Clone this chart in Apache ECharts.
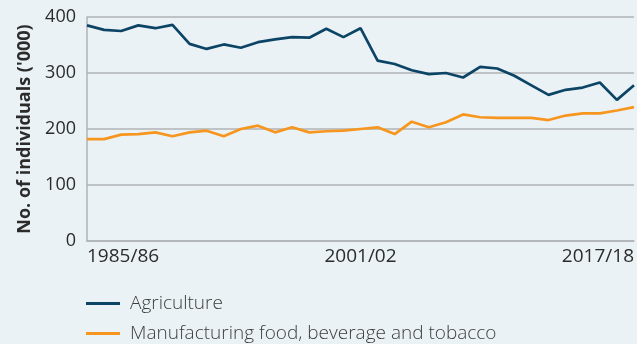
<!DOCTYPE html>
<html><head><meta charset="utf-8">
<script src="https://cdn.jsdelivr.net/npm/echarts@6/dist/echarts.min.js"></script>
<style>html,body{margin:0;padding:0;background:#ebf2f6}#c{width:637px;height:344px}</style>
</head><body><div id="c"></div>
<script>
const years = [];
for (let y = 1985; y <= 2017; y++) years.push(y + '/' + String((y + 1) % 100).padStart(2, '0'));
const agriculture = [385,377,375,385,380,386,352,343,351,345,355,360,364,363,379,364,380,322,316,305,298,300,292,311,308,295,278,261,270,274,283,252,278];
const manufacturing = [182,182,190,191,194,187,194,197,187,200,206,194,203,194,196,197,200,203,191,213,203,212,226,221,220,220,220,216,224,228,228,233,239];
const yTicks = [0,100,200,300,400];
const seriesNames = ['Agriculture','Manufacturing food, beverage and tobacco'];

const chart = echarts.init(document.getElementById('c'), null, {renderer:'canvas'});
chart.setOption({
  backgroundColor:'#ebf2f6',
  animation:false,
  grid:{left:87,right:1,top:17,bottom:103,containLabel:false},
  legend:{
    orient:'vertical', left:86, top:294, itemGap:11, padding:0,
    itemWidth:34, itemHeight:3, icon:'rect',
    textStyle:{fontFamily:'Open Sans', fontSize:19, lineHeight:19, color:'#3d3d3d', fontWeight:300, padding:[0,0,0,5]},
    data:seriesNames
  },
  xAxis:{
    type:'category', data:years, boundaryGap:false,
    axisLine:{show:true, lineStyle:{color:'#b0b3b6', width:1.5}},
    axisTick:{show:false},
    axisLabel:{
      interval:(i)=> i % 16 === 0,
      fontFamily:'Open Sans', fontSize:19, color:'#2b2b2b', margin:6,
      alignMinLabel:'left', alignMaxLabel:'right'
    },
    splitLine:{show:false}
  },
  yAxis:{
    type:'value', min:0, max:400, interval:100,
    name:"No. of individuals ('000)", nameLocation:'middle', nameGap:53,
    nameTextStyle:{fontFamily:'Open Sans', fontSize:18, fontWeight:'bold', color:'#2b2b2b'},
    axisLine:{show:true, lineStyle:{color:'#b0b3b6', width:1.5}},
    axisTick:{show:false},
    axisLabel:{fontFamily:'Open Sans', fontSize:18, color:'#2b2b2b', margin:11, customValues:yTicks},
    splitLine:{show:true, lineStyle:{color:'#b0b3b6', width:1.5}}
  },
  series:[
    {name:seriesNames[0], type:'line', data:agriculture, symbol:'none', lineStyle:{color:'#0c4466', width:2.7}, itemStyle:{color:'#0c4466'}},
    {name:seriesNames[1], type:'line', data:manufacturing, symbol:'none', lineStyle:{color:'#f7961f', width:2.7}, itemStyle:{color:'#f7961f'}}
  ]
});
</script></body></html>
